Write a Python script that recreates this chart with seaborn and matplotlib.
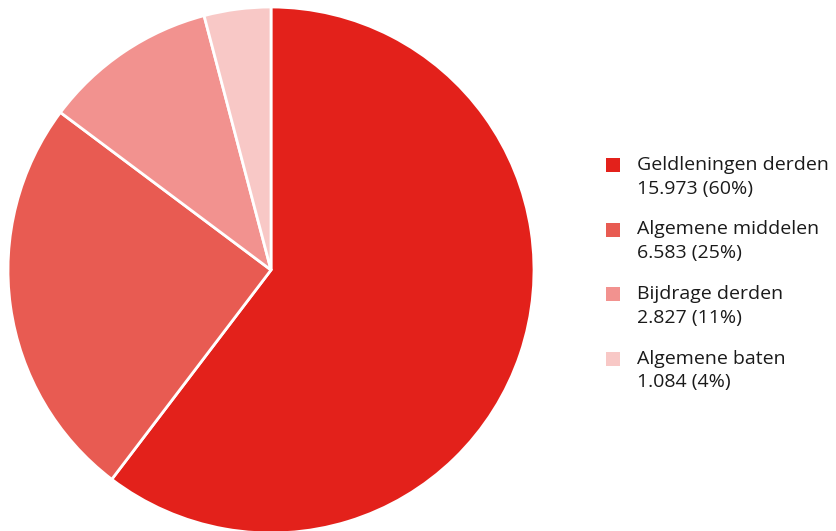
import numpy as np
import matplotlib
matplotlib.use("Agg")
import matplotlib.pyplot as plt
import seaborn as sns

# data
categorieen = ["Geldleningen derden", "Algemene middelen", "Bijdrage derden", "Algemene baten"]
bedragen = [15973, 6583, 2827, 1084]
kleuren = ["#E3211B", "#E85B52", "#F2928F", "#F8C8C6"]

sns.set_theme(style="white")
plt.rcParams["font.family"] = ["Open Sans", "DejaVu Sans"]

fig = plt.figure(figsize=(8.36, 5.31), dpi=100)

# pie: centre ~(271, 270) px, radius ~263 px
ax = fig.add_axes([8 / 836, (531 - 533) / 531, 526 / 836, 526 / 531])
ax.pie(
    bedragen,
    colors=kleuren,
    startangle=90,
    counterclock=False,
    radius=1,
    wedgeprops=dict(edgecolor="white", linewidth=2),
)
ax.set_xlim(-1, 1)
ax.set_ylim(-1, 1)
ax.set_aspect("equal")

# legend
totaal = sum(bedragen)
lax = fig.add_axes([600 / 836, (531 - 390.75) / 531, 236 / 836, 258 / 531])
lax.set_xlim(0, 1)
lax.set_ylim(len(categorieen) - 0.5, -0.5)
lax.axis("off")

for i, (naam, waarde, kleur) in enumerate(zip(categorieen, bedragen, kleuren)):
    pct = round(waarde / totaal * 100)
    waarde_txt = f"{waarde:,}".replace(",", ".")
    lax.scatter(0.053, i, marker="s", s=110, color=kleur, linewidths=0)
    lax.text(0.157, i, naam, va="center", ha="left", fontsize=14, color="#1a1a1a")
    lax.text(0.157, i + 0.37, f"{waarde_txt} ({pct}%)", va="center", ha="left",
             fontsize=14, color="#1a1a1a")

fig.savefig("out.png", dpi=100)
